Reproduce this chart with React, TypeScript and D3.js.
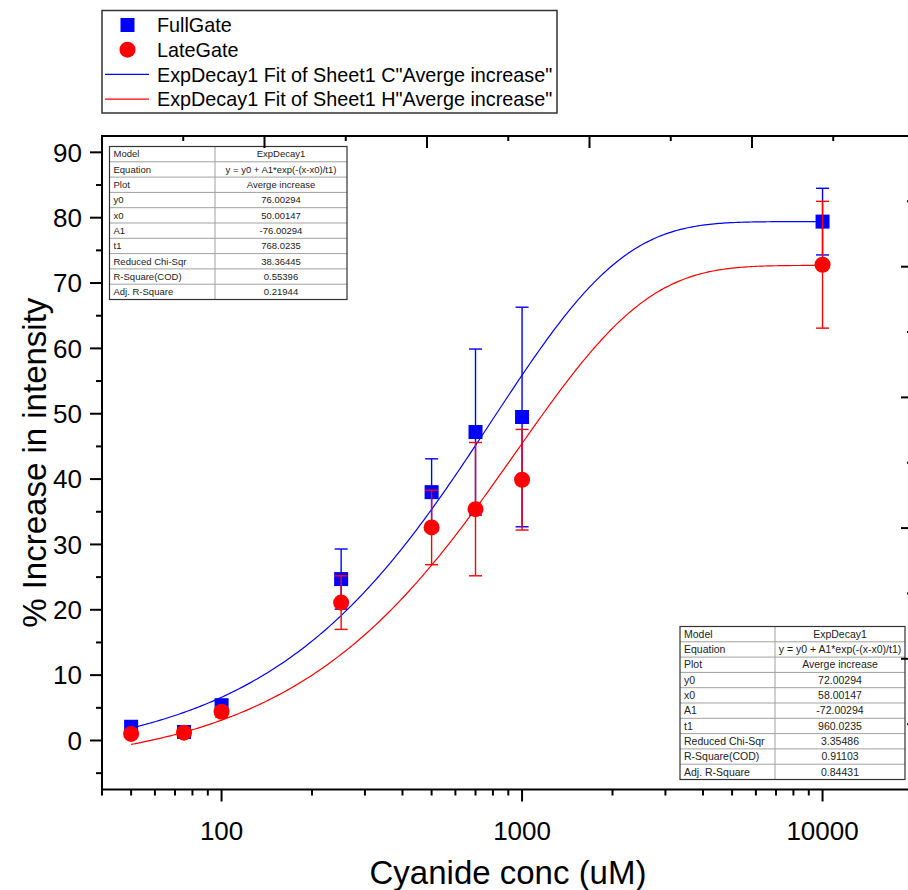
import React from "react";
import * as d3 from "d3";

// ---------- data ----------
const concentrations = [50, 75, 100, 250, 500, 700, 1000, 10000];
const fullGateValues = [2.1, 1.3, 5.4, 24.7, 38.0, 47.2, 49.5, 79.4];
const fullGateErrors = [0.6, 0.5, 0.6, 4.6, 5.1, 12.7, 16.8, 5.1];
const lateGateValues = [1.0, 1.2, 4.4, 21.1, 32.6, 35.4, 39.9, 72.8];
const lateGateErrors = [0.5, 0.5, 0.8, 4.1, 5.7, 10.2, 7.7, 9.7];

// ExpDecay1 fit curves as drawn: y = y0 + A1*exp(-(x-x0)/t1)
const fullGateFit = { y0: 79.4, x0: 50, A1: -77.5, t1: 796 };
const lateGateFit = { y0: 72.7, x0: 58, A1: -72.7, t1: 960 };
const fitRange = [50, 10000];

const xTickLabels = [100, 1000, 10000];
const yTickLabels = [0, 10, 20, 30, 40, 50, 60, 70, 80, 90];

const legendLabels = [
  "FullGate",
  "LateGate",
  'ExpDecay1 Fit of Sheet1 C"Averge increase"',
  'ExpDecay1 Fit of Sheet1 H"Averge increase"',
];

const tableRowNames = [
  "Model",
  "Equation",
  "Plot",
  "y0",
  "x0",
  "A1",
  "t1",
  "Reduced Chi-Sqr",
  "R-Square(COD)",
  "Adj. R-Square",
];
const tableFullGate = [
  "ExpDecay1",
  "y = y0 + A1*exp(-(x-x0)/t1)",
  "Averge increase",
  "76.00294",
  "50.00147",
  "-76.00294",
  "768.0235",
  "38.36445",
  "0.55396",
  "0.21944",
];
const tableLateGate = [
  "ExpDecay1",
  "y = y0 + A1*exp(-(x-x0)/t1)",
  "Averge increase",
  "72.00294",
  "58.00147",
  "-72.00294",
  "960.0235",
  "3.35486",
  "0.91103",
  "0.84431",
];

// ---------- layout ----------
const W = 908;
const H = 890;
const L = 102;
const R = 913;
const T = 136;
const B = 789.5;
const FONT = "'Liberation Sans', Arial, sans-serif";
const BLUE = "#0000ff";
const RED = "#ff0000";

const x = d3.scaleLog().domain([40, 20000]).range([L, R]);
const y = d3.scaleLinear().domain([-7.5, 92.5]).range([B, T]);
const topScale = d3.scaleLinear().domain([0, 10]).range([L, 914.5]);
const rightScale = d3.scaleLinear().domain([0, 5]).range([B, T]);

function fitLine(p: { y0: number; x0: number; A1: number; t1: number }) {
  const xs = d3.range(0, 301).map((i) =>
    Math.pow(10, Math.log10(fitRange[0]) + (i / 300) * (Math.log10(fitRange[1]) - Math.log10(fitRange[0])))
  );
  const gen = d3
    .line<number>()
    .x((d) => x(d))
    .y((d) => y(p.y0 + p.A1 * Math.exp(-(d - p.x0) / p.t1)));
  return gen(xs) || "";
}

function ErrorBars({ vals, errs, color }: { vals: number[]; errs: number[]; color: string }) {
  return (
    <g stroke={color} strokeWidth={1.4} fill="none">
      {concentrations.map((c, i) => {
        const cx = x(c);
        const y1 = y(vals[i] + errs[i]);
        const y2 = y(vals[i] - errs[i]);
        return (
          <g key={i}>
            <line x1={cx} x2={cx} y1={y1} y2={y2} />
            <line x1={cx - 6.5} x2={cx + 6.5} y1={y1} y2={y1} />
            <line x1={cx - 6.5} x2={cx + 6.5} y1={y2} y2={y2} />
          </g>
        );
      })}
    </g>
  );
}

function Table({
  left,
  mid,
  right,
  top,
  rowH,
  values,
  fontSize,
}: {
  left: number;
  mid: number;
  right: number;
  top: number;
  rowH: number;
  values: string[];
  fontSize: number;
}) {
  const n = tableRowNames.length;
  const bottom = top + n * rowH;
  return (
    <g fontFamily={FONT} fontSize={fontSize}>
      <rect x={left} y={top} width={right - left} height={bottom - top} fill="#fff" stroke="none" />
      {d3.range(1, n).map((i) => (
        <line key={i} x1={left} x2={right} y1={top + i * rowH} y2={top + i * rowH} stroke="#a0a0a0" strokeWidth={1} />
      ))}
      <line x1={mid} x2={mid} y1={top} y2={bottom} stroke="#a0a0a0" strokeWidth={1} />
      <rect x={left} y={top} width={right - left} height={bottom - top} fill="none" stroke="#333" strokeWidth={1.2} />
      {tableRowNames.map((name, i) => (
        <g key={i}>
          <text x={left + 4} y={top + i * rowH + rowH / 2} dy="0.35em" fill="#222">
            {name}
          </text>
          <text x={(mid + right) / 2} y={top + i * rowH + rowH / 2} dy="0.35em" textAnchor="middle" fill="#222">
            {values[i]}
          </text>
        </g>
      ))}
    </g>
  );
}

export default function App() {
  const xMinor: number[] = [];
  [10, 100, 1000, 10000].forEach((dec) => {
    for (let k = 2; k <= 9; k++) {
      const v = dec * k;
      if (v >= 40 && v <= 20000 && !xTickLabels.includes(v)) xMinor.push(v);
    }
  });
  const yMinor = d3.range(-5, 90, 10);
  const topMajor = [2, 4, 6, 8];
  const topMinor = [1, 3, 5, 7, 9];
  const rightMajor = [1, 2, 3, 4];
  const rightMinor = [0.5, 1.5, 2.5, 3.5, 4.5];

  return (
    <svg
      width={W}
      height={H}
      style={{ position: "absolute", left: 0, top: 0, background: "#fff" }}
      xmlns="http://www.w3.org/2000/svg"
    >
      <rect x={0} y={0} width={W} height={H} fill="#fff" />

      {/* fit curves */}
      <path d={fitLine(fullGateFit)} fill="none" stroke={BLUE} strokeWidth={1.2} />
      <path d={fitLine(lateGateFit)} fill="none" stroke={RED} strokeWidth={1.2} />

      {/* FullGate */}
      <ErrorBars vals={fullGateValues} errs={fullGateErrors} color={BLUE} />
      {concentrations.map((c, i) => (
        <rect key={i} x={x(c) - 7} y={y(fullGateValues[i]) - 7} width={14} height={14} fill={BLUE} />
      ))}
      {/* LateGate */}
      <ErrorBars vals={lateGateValues} errs={lateGateErrors} color={RED} />
      {concentrations.map((c, i) => (
        <circle key={i} cx={x(c)} cy={y(lateGateValues[i])} r={8} fill={RED} />
      ))}

      {/* tables */}
      <Table left={109.5} mid={215} right={347} top={146.5} rowH={15.3} values={tableFullGate} fontSize={9.5} />
      <Table left={680} mid={775} right={905} top={626.5} rowH={15.3} values={tableLateGate} fontSize={10.5} />

      {/* axes frame */}
      <g stroke="#000" fill="none">
        <line x1={L} x2={L} y1={T - 1} y2={B + 1} strokeWidth={2} />
        <line x1={L - 1} x2={R + 2} y1={B} y2={B} strokeWidth={2} />
        <line x1={L - 1} x2={R + 2} y1={T} y2={T} strokeWidth={2} />
        <line x1={R} x2={R} y1={T} y2={B} strokeWidth={2} />
        {/* left ticks */}
        {yTickLabels.map((v) => (
          <line key={"ym" + v} x1={L - 12} x2={L} y1={y(v)} y2={y(v)} strokeWidth={2} />
        ))}
        {yMinor.map((v) => (
          <line key={"yn" + v} x1={L - 6} x2={L} y1={y(v)} y2={y(v)} strokeWidth={2} />
        ))}
        {/* bottom ticks */}
        {xTickLabels.map((v) => (
          <line key={"xm" + v} x1={x(v)} x2={x(v)} y1={B} y2={B + 12} strokeWidth={2} />
        ))}
        {xMinor.map((v) => (
          <line key={"xn" + v} x1={x(v)} x2={x(v)} y1={B} y2={B + 6} strokeWidth={2} />
        ))}
        {/* top ticks (inward) */}
        {topMajor.map((v) => (
          <line key={"tm" + v} x1={topScale(v)} x2={topScale(v)} y1={T} y2={T + 12} strokeWidth={2} />
        ))}
        {topMinor.map((v) => (
          <line key={"tn" + v} x1={topScale(v)} x2={topScale(v)} y1={T} y2={T + 5} strokeWidth={2} />
        ))}
        {/* right ticks (inward) */}
        {rightMajor.map((v) => (
          <line key={"rm" + v} x1={R - 12} x2={R} y1={rightScale(v)} y2={rightScale(v)} strokeWidth={2} />
        ))}
        {rightMinor.map((v) => (
          <line key={"rn" + v} x1={R - 6} x2={R} y1={rightScale(v)} y2={rightScale(v)} strokeWidth={2} />
        ))}
      </g>

      {/* tick labels */}
      <g fontFamily={FONT} fontSize={26} fill="#000">
        {yTickLabels.map((v) => (
          <text key={"yl" + v} x={L - 20} y={y(v)} dy="0.36em" textAnchor="end">
            {v}
          </text>
        ))}
        {xTickLabels.map((v) => (
          <text key={"xl" + v} x={x(v)} y={B + 50} textAnchor="middle">
            {v}
          </text>
        ))}
      </g>

      {/* axis titles */}
      <text
        x={(L + 914) / 2}
        y={884}
        textAnchor="middle"
        fontFamily={FONT}
        fontSize={33}
        fill="#000"
      >
        Cyanide conc (uM)
      </text>
      <text
        transform={`translate(46, ${(T + B) / 2}) rotate(-90)`}
        textAnchor="middle"
        fontFamily={FONT}
        fontSize={33}
        fill="#000"
      >
        % Increase in intensity
      </text>

      {/* legend */}
      <g fontFamily={FONT} fontSize={19.8}>
        <rect x={102} y={10.5} width={455} height={102.5} fill="#fff" stroke="#333" strokeWidth={1.5} />
        {legendLabels.map((lab, i) => {
          const cy = 25 + i * 24.7;
          return (
            <g key={i}>
              {i === 0 && <rect x={127.5 - 7} y={cy - 7} width={14} height={14} fill={BLUE} />}
              {i === 1 && <circle cx={127.5} cy={cy} r={8} fill={RED} />}
              {i === 2 && <line x1={105} x2={149} y1={cy} y2={cy} stroke={BLUE} strokeWidth={1.2} />}
              {i === 3 && <line x1={105} x2={149} y1={cy} y2={cy} stroke={RED} strokeWidth={1.2} />}
              <text x={157} y={cy} dy="0.36em" fill="#000">
                {lab}
              </text>
            </g>
          );
        })}
      </g>
    </svg>
  );
}
